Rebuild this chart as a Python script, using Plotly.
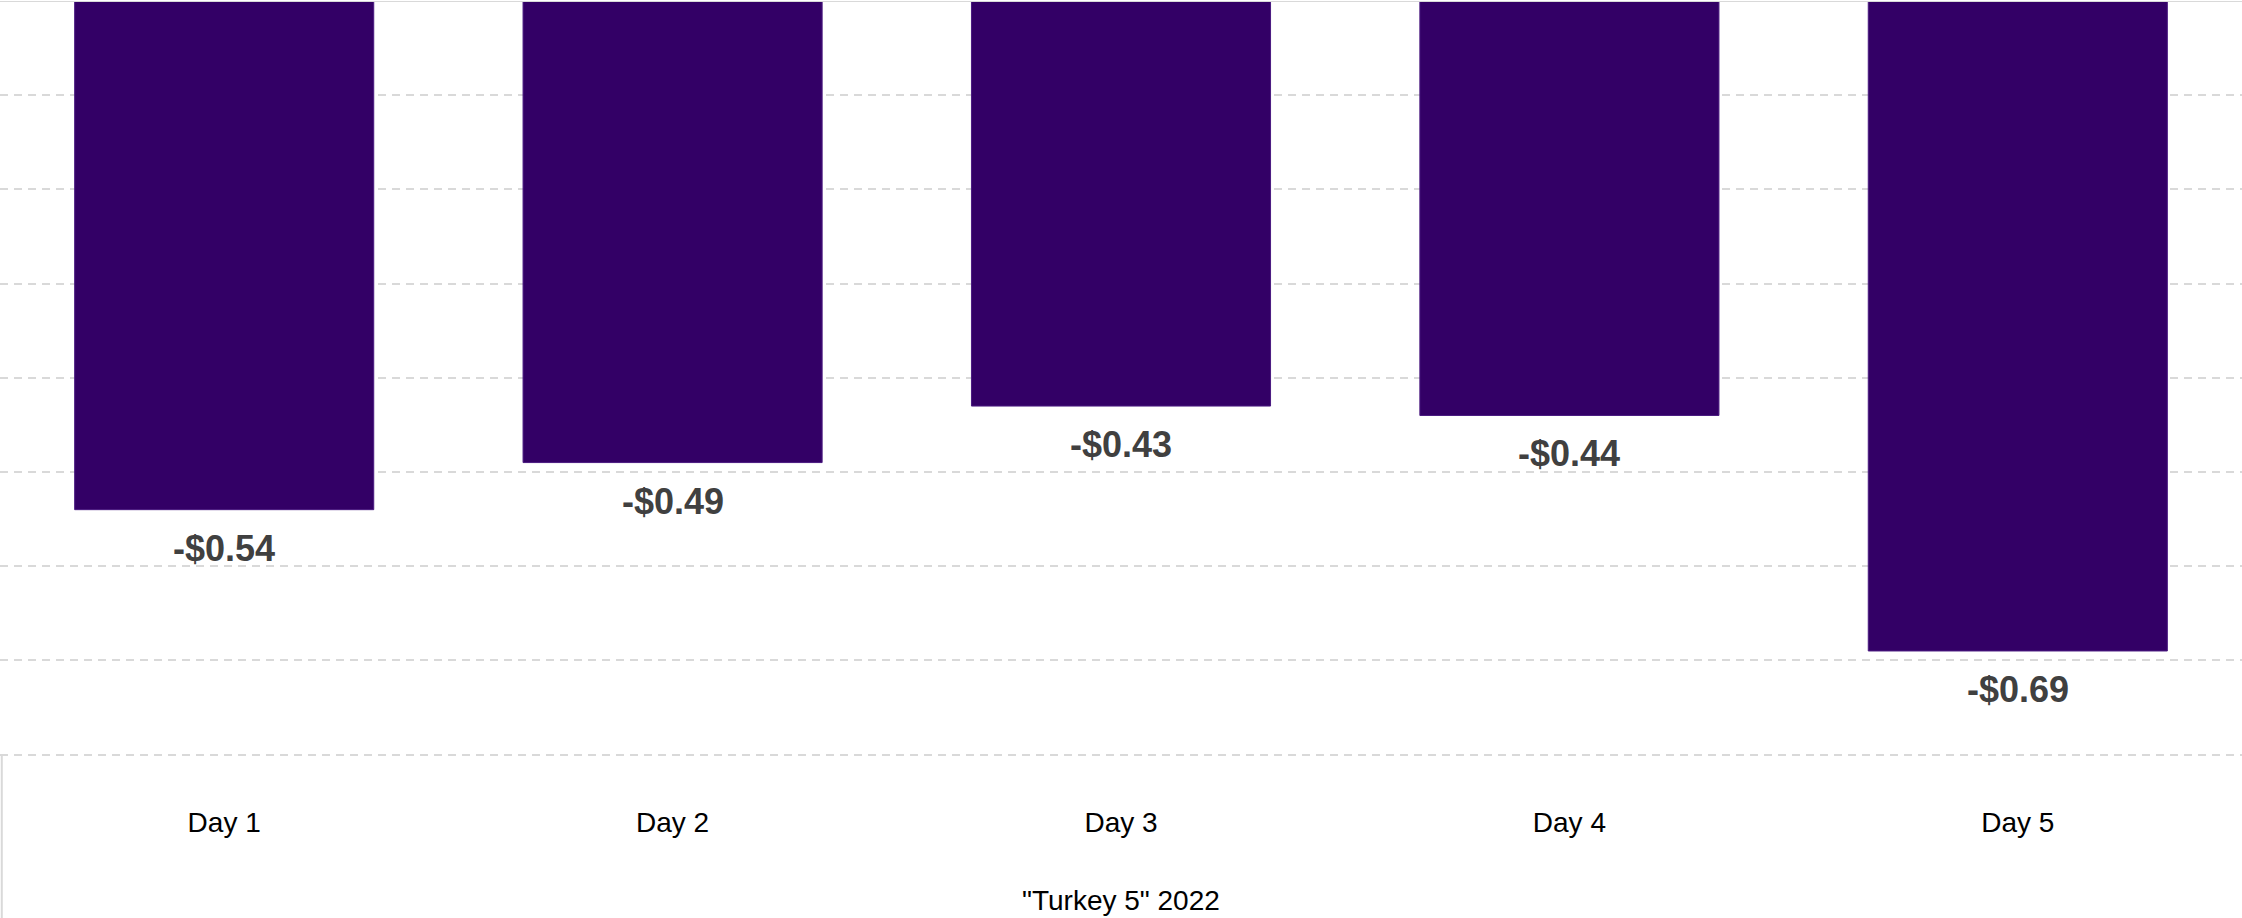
import plotly.graph_objects as go

# Daily change per unit, "Turkey 5" 2022
days = ["Day 1", "Day 2", "Day 3", "Day 4", "Day 5"]
change = [-0.54, -0.49, -0.43, -0.44, -0.69]
label_text = ["-$0.54", "-$0.49", "-$0.43", "-$0.44", "-$0.69"]
grid_ticks = [-0.8, -0.7, -0.6, -0.5, -0.4, -0.3, -0.2, -0.1, 0.0]

W, H = 2242, 918
M_TOP, M_BOT = 1, 162
plot_h = H - M_TOP - M_BOT

fig = go.Figure()
fig.add_trace(go.Bar(
    x=days,
    y=change,
    marker=dict(color="#330066", line=dict(color="#4a1a80", width=1)),
    hoverinfo="skip",
))

# value labels just below each bar end
for d, v, t in zip(days, change, label_text):
    fig.add_annotation(
        x=d, y=v, text=f"<b>{t}</b>", showarrow=False,
        xref="x", yref="y", yanchor="top", yshift=-16,
        font=dict(family="Liberation Sans, Arial, sans-serif", size=36, color="#404040"),
    )

# category axis title
fig.add_annotation(
    x=0.5, y=0, xref="paper", yref="paper", text='"Turkey 5" 2022',
    showarrow=False, yanchor="top", yshift=-128, borderpad=0,
    font=dict(family="Liberation Sans, Arial, sans-serif", size=28, color="#000000"),
)

# zero line along the top and left divider below the plot
fig.add_shape(type="line", xref="paper", yref="y", x0=0, x1=1, y0=0, y1=0,
              line=dict(color="#d9d9d9", width=2))
fig.add_shape(type="line", xref="paper", yref="paper", x0=0.0008, x1=0.0008,
              y0=0, y1=-M_BOT / plot_h, line=dict(color="#d9d9d9", width=2))

fig.update_layout(
    width=W, height=H,
    margin=dict(l=0, r=0, t=M_TOP, b=M_BOT, pad=0),
    paper_bgcolor="white", plot_bgcolor="white",
    bargap=0.333,
    showlegend=False,
    font=dict(family="Liberation Sans, Arial, sans-serif"),
)
fig.update_xaxes(
    showgrid=False, showline=False, ticks="",
    tickfont=dict(family="Liberation Sans, Arial, sans-serif", size=28, color="#000000"),
    ticklabelstandoff=47,
)
fig.update_yaxes(
    range=[-0.8015, 0], tickvals=grid_ticks, showticklabels=False,
    showgrid=True, gridcolor="#d9d9d9", gridwidth=2, griddash="8px,6px",
    zeroline=False, showline=False,
)

fig.write_html("out.html")
